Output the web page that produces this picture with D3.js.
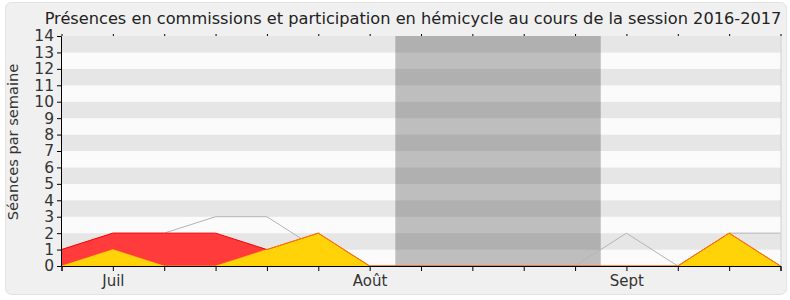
<!DOCTYPE html>
<html>
<head>
<meta charset="utf-8">
<script src="https://cdn.jsdelivr.net/npm/d3@7"></script>
<style>
  body { margin: 0; background: #fff; }
  svg text { font-family: "DejaVu Sans", Verdana, sans-serif; }
</style>
</head>
<body>
<div id="chart"></div>
<script>
// weekly values, one per week of the session
const weeks = d3.range(15);
const commissions = [1, 2, 2, 2, 1, 2, 0, 0, 0, 0, 0, 0, 0, 2, 0];
const hemicycle = [0, 1, 0, 0, 1, 2, 0, 0, 0, 0, 0, 0, 0, 2, 0];
const presences = [1, 2, 2, 3, 3, 1, 0, 0, 0, 0, 0, 2, 0, 2, 2];
const monthLabels = [{ i: 1, label: "Juil" }, { i: 6, label: "Août" }, { i: 11, label: "Sept" }];
const vacances = [6.5, 10.5];
const yTicks = d3.range(0, 15);

const W = 790, H = 300;
const margin = { top: 36, right: 9, bottom: 34, left: 61 };
const width = W - margin.left - margin.right;
const height = H - margin.top - margin.bottom;

const svg = d3.select("#chart").append("svg")
  .attr("width", W)
  .attr("height", H);

// card background
svg.append("rect")
  .attr("x", 5.5).attr("y", 2.5)
  .attr("width", 781).attr("height", 292)
  .attr("rx", 6)
  .attr("fill", "#f0f0f0")
  .attr("stroke", "#e2e2e2");

svg.append("text")
  .attr("x", 413).attr("y", 24)
  .attr("text-anchor", "middle")
  .attr("font-size", "16.2px")
  .attr("fill", "#222")
  .text("Présences en commissions et participation en hémicycle au cours de la session 2016-2017");

const xScale = d3.scaleLinear().domain([0, 14]).range([0.5, width - 0.5]);
const yScale = d3.scaleLinear().domain([0, 14]).range([height, 0]);

const chart = svg.append("g")
  .attr("transform", `translate(${margin.left}, ${margin.top})`);

// stripes
chart.selectAll(".stripe")
  .data(d3.range(14))
  .enter().append("rect")
  .attr("class", "stripe")
  .attr("x", 0)
  .attr("width", width)
  .attr("y", d => yScale(d + 1))
  .attr("height", d => yScale(d) - yScale(d + 1))
  .attr("fill", d => d % 2 ? "#e6e6e6" : "#fbfbfb");

chart.append("line")
  .attr("x1", width).attr("x2", width)
  .attr("y1", 0).attr("y2", height)
  .attr("stroke", "#d0d0d0");

// parliamentary holidays
chart.append("rect")
  .attr("x", xScale(vacances[0]))
  .attr("width", xScale(vacances[1]) - xScale(vacances[0]))
  .attr("y", 0)
  .attr("height", height)
  .attr("fill", "rgba(68,68,68,0.33)");

const area = d3.area()
  .x((d, i) => xScale(i))
  .y0(yScale(0))
  .y1(d => yScale(d));
const line = d3.line()
  .x((d, i) => xScale(i))
  .y(d => yScale(d));

chart.append("path")
  .attr("d", line(presences))
  .attr("fill", "none")
  .attr("stroke", "#b4b4b4")
  .attr("stroke-width", 1);

chart.append("path")
  .attr("d", area(commissions))
  .attr("fill", "#ff3b3b");

chart.append("path")
  .attr("d", area(hemicycle))
  .attr("fill", "#ffd308");

chart.append("path")
  .attr("d", line(commissions))
  .attr("fill", "none")
  .attr("stroke", "#ff0000")
  .attr("stroke-width", 1);

chart.append("path")
  .attr("d", line(hemicycle))
  .attr("fill", "none")
  .attr("stroke", "#ffd700")
  .attr("stroke-opacity", 0.55)
  .attr("stroke-width", 1);

// axes
const labelOf = i => { const m = monthLabels.find(d => d.i === i); return m ? m.label : ""; };

const xAxis = chart.append("g")
  .attr("transform", `translate(0, ${height})`)
  .call(d3.axisBottom(xScale).tickValues(weeks).tickSize(5).tickPadding(4).tickFormat(labelOf));
xAxis.select(".domain").attr("stroke", "#000");
xAxis.selectAll("text").attr("font-size", "15px").attr("fill", "#333");

const xTop = chart.append("g")
  .call(d3.axisTop(xScale).tickValues(weeks).tickSize(2).tickFormat(""));
xTop.select(".domain").remove();

const yAxis = chart.append("g")
  .call(d3.axisLeft(yScale).tickValues(yTicks).tickSize(4).tickPadding(3).tickFormat(d3.format("d")));
yAxis.select(".domain").attr("stroke", "#000");
yAxis.selectAll("text").attr("font-size", "15.5px").attr("fill", "#333");

svg.append("text")
  .attr("transform", "translate(18, 142) rotate(-90)")
  .attr("text-anchor", "middle")
  .attr("font-size", "14.6px")
  .attr("fill", "#333")
  .text("Séances par semaine");
</script>
</body>
</html>
